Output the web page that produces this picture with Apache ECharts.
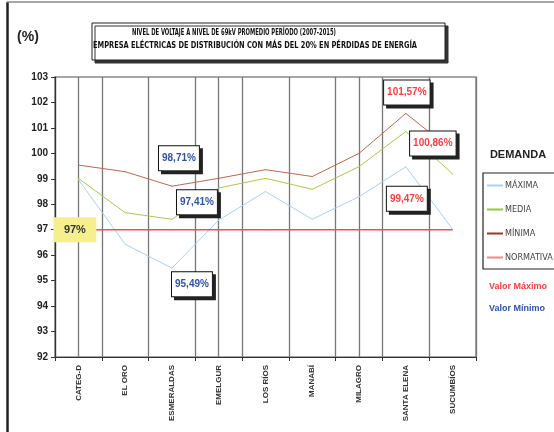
<!DOCTYPE html>
<html><head><meta charset="utf-8">
<script src="https://cdn.jsdelivr.net/npm/echarts@6/dist/echarts.min.js"></script>
<style>html,body{margin:0;padding:0;background:#fff}#c{width:554px;height:432px}</style>
</head><body><div id="c"></div>
<script>
const categories = ['CATEG-D','EL ORO','ESMERALDAS','EMELGUR','LOS RÍOS','MANABÍ','MILAGRO','SANTA ELENA','SUCUMBÍOS'];
const maxima    = [98.97, 96.43, 95.49, 97.38, 98.50, 97.41, 98.30, 99.47, 97.02];
const media     = [99.02, 97.67, 97.41, 98.64, 99.02, 98.59, 99.48, 100.86, 99.19];
const minima    = [99.54, 99.28, 98.71, 99.02, 99.36, 99.09, 100.00, 101.57, 100.10];
const normativa = [97, 97, 97, 97, 97, 97, 97, 97, 97];
const seriesNames = ['MÁXIMA', 'MEDIA', 'MÍNIMA', 'NORMATIVA'];
const yTicks = {min: 92, max: 103, interval: 1};
const titleLines = ['NIVEL DE VOLTAJE A NIVEL DE 69kV PROMEDIO PERÍODO (2007-2015)',
                    'EMPRESA ELÉCTRICAS DE DISTRIBUCIÓN CON MÁS DEL 20% EN PÉRDIDAS DE ENERGÍA'];

const NARROW = "'Liberation Sans Narrow','DejaVu Sans Condensed',sans-serif";
const SANS = "'Liberation Sans',Arial,sans-serif";
const RED = '#ff3c3c', BLUE = '#2f52a8';
const fmt = v => v.toFixed(2).replace('.', ',') + '%';

const mctx = document.createElement('canvas').getContext('2d');
function fitScale(text, font, target) { mctx.font = font; return target / mctx.measureText(text).width; }
const TFONT = "bold 9px 'DejaVu Sans Condensed','Liberation Sans',sans-serif";

function boxLabel(color, offset) {
  return {
    show: true, position: 'inside', offset: offset,
    formatter: p => fmt(p.value),
    color: color, fontFamily: SANS, fontWeight: 'bold', fontSize: 10,
    backgroundColor: '#fff', borderColor: '#111', borderWidth: 1,
    padding: [6, 3, 6, 3], lineHeight: 12,
    shadowColor: '#222', shadowBlur: 0, shadowOffsetX: 3, shadowOffsetY: 3
  };
}
function withLabels(values, ann) {
  return values.map((v, i) => ann[i] ? {value: v, label: ann[i]} : {value: v, label: {show: false}});
}
const maxData = withLabels(maxima, {2: boxLabel(BLUE, [20, 16]), 7: boxLabel(RED, [1, 32])});
const medData = withLabels(media, {2: boxLabel(BLUE, [25, -17]), 7: boxLabel(RED, [27, 12])});
const minData = withLabels(minima, {2: boxLabel(BLUE, [7, -28]), 7: boxLabel(RED, [1, -21])});
const normData = withLabels(normativa, {0: {
  show: true, position: 'left', distance: 3, formatter: p => p.value + '%',
  width: 43, height: 25, lineHeight: 25, align: 'center', padding: 0,
  backgroundColor: '#f6f08c', color: '#333', fontFamily: SANS, fontWeight: 'bold', fontSize: 11
}});

function lineSeries(name, data, color, width) {
  return {
    name: name, type: 'line', data: data, symbol: 'circle', symbolSize: 1,
    itemStyle: {color: color}, lineStyle: {color: color, width: width},
    emphasis: {disabled: true}, animation: false
  };
}
const legendColors = ['#a9d3f0', '#99cc33', '#a8321f', '#f28a80'];

const chart = echarts.init(document.getElementById('c'));
chart.setOption({
  backgroundColor: '#fff',
  animation: false,
  grid: {left: 55, right: 78, top: 77, bottom: 75, show: true, borderColor: '#8a8a8a', borderWidth: 1.5},
  xAxis: [{
    type: 'category', data: categories, boundaryGap: true,
    axisLine: {lineStyle: {color: '#333', width: 1.2}},
    axisTick: {show: true, length: 4, lineStyle: {color: '#333'}},
    splitLine: {show: true, lineStyle: {color: '#777', width: 1.3}},
    axisLabel: {rotate: 90, interval: 0, margin: 8, fontSize: 8, fontWeight: 'bold', color: '#333', fontFamily: SANS}
  }, {
    type: 'category', data: categories, boundaryGap: true, position: 'bottom',
    axisLine: {show: false}, axisLabel: {show: false}, splitLine: {show: false},
    axisTick: {show: true, alignWithLabel: true, inside: true, length: 280, lineStyle: {color: '#777', width: 1.3}}
  }],
  yAxis: {
    type: 'value', min: yTicks.min, max: yTicks.max, interval: yTicks.interval,
    axisLine: {show: true, lineStyle: {color: '#333', width: 1.2}},
    axisTick: {show: true, length: 4, lineStyle: {color: '#333'}},
    splitLine: {show: false},
    axisLabel: {margin: 7, fontSize: 10, fontWeight: 'bold', color: '#222', fontFamily: SANS}
  },
  legend: {
    orient: 'vertical', left: 483, top: 173,
    data: seriesNames.map((n, i) => ({name: n, itemStyle: {color: legendColors[i]}})),
    icon: 'rect', itemWidth: 16, itemHeight: 2, itemGap: 15,
    borderWidth: 0, padding: [8, 2, 7, 4],
    textStyle: {fontSize: 9, color: '#444', fontFamily: NARROW, padding: [0, 0, 0, -3]},
    selectedMode: false
  },
  series: [
    lineSeries(seriesNames[0], maxData, '#a9d3f0', 1),
    lineSeries(seriesNames[1], medData, '#a8cc4a', 1),
    lineSeries(seriesNames[2], minData, '#c2664f', 1),
    lineSeries(seriesNames[3], normData, '#ff4a4a', 1.5)
  ],
  graphic: [
    {type: 'line', shape: {x1: 7.5, y1: 2, x2: 7.5, y2: 432}, style: {stroke: '#222', lineWidth: 2.5}, silent: true},
    {type: 'line', shape: {x1: 7, y1: 2, x2: 554, y2: 2}, style: {stroke: '#888', lineWidth: 1.5}, silent: true},
    {type: 'rect', shape: {x: 483, y: 173, width: 120, height: 96},
     style: {fill: 'none', stroke: '#222', lineWidth: 1.2}, silent: true},
    {type: 'rect', shape: {x: 92, y: 23, width: 353, height: 37},
     style: {fill: '#fff', stroke: '#222', lineWidth: 1, shadowColor: '#333', shadowBlur: 0, shadowOffsetX: 3, shadowOffsetY: 3}, silent: true},
    {type: 'text', x: 234, y: 33, scaleX: fitScale(titleLines[0], TFONT, 204),
     style: {text: titleLines[0], fill: '#111', font: TFONT, align: 'center', verticalAlign: 'middle'}, silent: true},
    {type: 'text', x: 93, y: 46, scaleX: fitScale(titleLines[1], TFONT, 324),
     style: {text: titleLines[1], fill: '#111', font: TFONT, align: 'left', verticalAlign: 'middle'}, silent: true},
    {type: 'text', x: 28, y: 37, style: {text: '(%)', fill: '#222', font: "bold 14px " + SANS, align: 'center', verticalAlign: 'middle'}, silent: true},
    {type: 'text', x: 518, y: 155, style: {text: 'DEMANDA', fill: '#222', font: "bold 11px " + SANS, align: 'center', verticalAlign: 'middle'}, silent: true},
    {type: 'text', x: 489, y: 287, style: {text: 'Valor Máximo', fill: RED, font: "bold 9px " + SANS, align: 'left', verticalAlign: 'middle'}, silent: true},
    {type: 'text', x: 489, y: 309, style: {text: 'Valor Mínimo', fill: BLUE, font: "bold 9px " + SANS, align: 'left', verticalAlign: 'middle'}, silent: true}
  ]
});
</script></body></html>
